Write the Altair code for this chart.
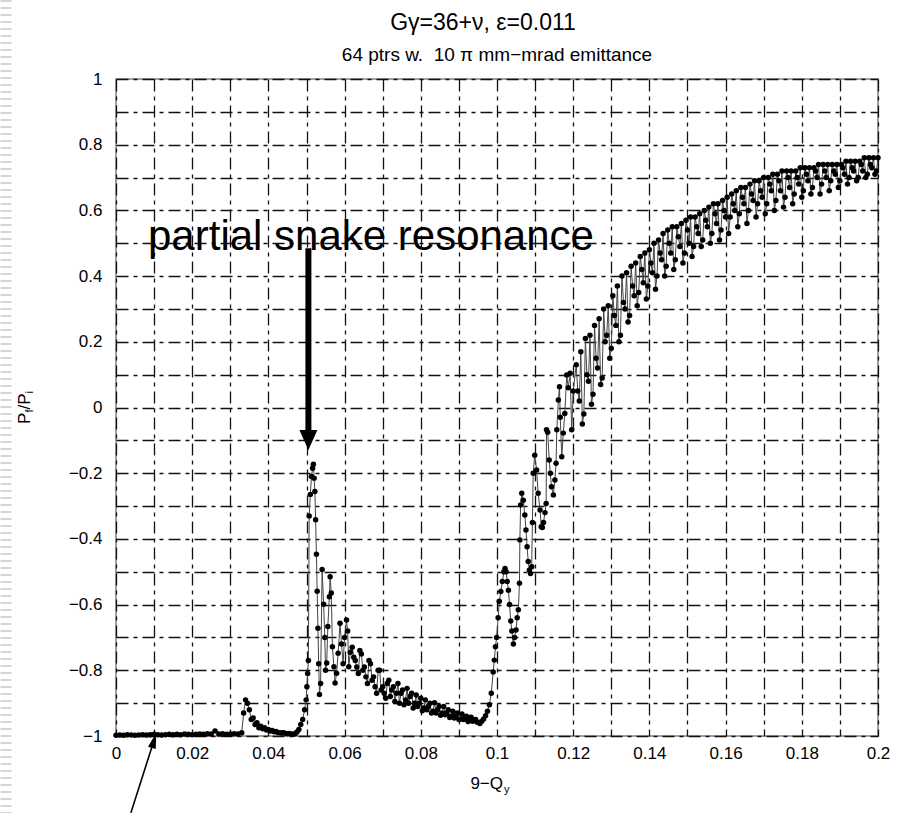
import altair as alt
import pandas as pd

# ---------------- data ----------------
# segment A: flat part, x = 0 ... 0.032 in steps of 0.001
flat_start, flat_step = 0.0, 0.001
flat_y = [-0.998, -0.997, -0.998, -0.996, -0.997, -0.998, -0.997, -0.996, -0.997, -0.996,
          -0.995, -0.996, -0.997, -0.996, -0.995, -0.996, -0.995, -0.996, -0.994, -0.995,
          -0.996, -0.995, -0.994, -0.995, -0.993, -0.994, -0.985, -0.994, -0.993, -0.995,
          -0.994, -0.993, -0.994]

# segment B: small bump, x = 0.033 ... 0.047 in steps of 0.0005
bump_start, bump_step = 0.033, 0.0005
bump_y = [-0.990, -0.930, -0.890, -0.900, -0.920, -0.950, -0.945, -0.965, -0.960, -0.975,
          -0.970, -0.978, -0.975, -0.982, -0.980, -0.985, -0.983, -0.987, -0.986, -0.989,
          -0.990, -0.991, -0.990, -0.992, -0.993, -0.992, -0.994, -0.995, -0.993]

# segment C: partial snake resonance peak
peak_x = [0.0475, 0.0480, 0.0485, 0.0490, 0.0495, 0.0499, 0.0501, 0.0503, 0.0505, 0.0507,
          0.0510, 0.0513, 0.0516, 0.0518, 0.0520, 0.0522, 0.0524, 0.0526, 0.0528, 0.0530,
          0.0532, 0.0534, 0.0537, 0.0541, 0.0545, 0.0548, 0.0550, 0.0553, 0.0556, 0.0560,
          0.0562, 0.0565, 0.0568, 0.0572, 0.0575, 0.0579, 0.0583, 0.0588, 0.0592, 0.0596,
          0.0600, 0.0605, 0.0608, 0.0611, 0.0615]
peak_y = [-0.988, -0.980, -0.965, -0.950, -0.920, -0.890, -0.850, -0.810, -0.770, -0.330,
          -0.265, -0.210, -0.185, -0.173, -0.215, -0.256, -0.342, -0.447, -0.559, -0.672,
          -0.780, -0.874, -0.840, -0.493, -0.599, -0.700, -0.800, -0.778, -0.667, -0.576,
          -0.515, -0.565, -0.728, -0.789, -0.839, -0.809, -0.748, -0.657, -0.720, -0.780,
          -0.700, -0.647, -0.680, -0.789, -0.745]

# segment D: slow decay, x = 0.0620 ... 0.0948 in steps of 0.0008
decay_start, decay_step = 0.0620, 0.0008
decay_y = [-0.730, -0.770, -0.810, -0.750, -0.790, -0.840, -0.780, -0.820, -0.870, -0.800,
           -0.850, -0.885, -0.830, -0.860, -0.895, -0.840, -0.870, -0.905, -0.855, -0.880,
           -0.915, -0.875, -0.900, -0.923, -0.890, -0.910, -0.930, -0.899, -0.920, -0.937,
           -0.910, -0.930, -0.944, -0.925, -0.938, -0.950, -0.933, -0.945, -0.956, -0.943,
           -0.952, -0.958]
# interleaved samples of the decay, x = 0.0624 ... 0.0944 in steps of 0.0008
decay2_start, decay2_step = 0.0624, 0.0008
decay2_y = [-0.760, -0.790, -0.740, -0.800, -0.820, -0.770, -0.830, -0.850, -0.800, -0.860,
            -0.870, -0.840, -0.880, -0.850, -0.870, -0.900, -0.860, -0.890, -0.900, -0.870,
            -0.900, -0.910, -0.885, -0.915, -0.920, -0.900, -0.925, -0.930, -0.910, -0.930,
            -0.935, -0.920, -0.940, -0.945, -0.930, -0.948, -0.950, -0.940, -0.952, -0.955,
            -0.950]

# segment E: steep recovery
rise_x = [0.0955, 0.0960, 0.0965, 0.0970, 0.0975, 0.0980, 0.0985, 0.0990, 0.0993, 0.0996,
          0.0999, 0.1003, 0.1006, 0.1010, 0.1014, 0.1018, 0.1021, 0.1024, 0.1027, 0.1030,
          0.1033, 0.1036, 0.1039, 0.1043, 0.1046, 0.1050, 0.1053, 0.1056, 0.1059, 0.1060,
          0.1062, 0.1065, 0.1069, 0.1073, 0.1076, 0.1079, 0.1082, 0.1085, 0.1088, 0.1091,
          0.1093, 0.1095, 0.1099, 0.1104, 0.1108, 0.1113, 0.1116, 0.1119, 0.1122, 0.1126,
          0.1129, 0.1130, 0.1133, 0.1137, 0.1140, 0.1143, 0.1148, 0.1152, 0.1155, 0.1157,
          0.1161, 0.1164, 0.1166, 0.1170, 0.1174, 0.1178, 0.1183, 0.1187, 0.1192, 0.1196,
          0.1200]
rise_y = [-0.962, -0.955, -0.948, -0.938, -0.925, -0.905, -0.870, -0.805, -0.769, -0.728,
          -0.700, -0.640, -0.590, -0.560, -0.530, -0.500, -0.490, -0.500, -0.530, -0.556,
          -0.600, -0.650, -0.680, -0.720, -0.700, -0.677, -0.640, -0.616, -0.535, -0.403,
          -0.297, -0.261, -0.282, -0.327, -0.373, -0.424, -0.469, -0.495, -0.505, -0.485,
          -0.350, -0.200, -0.145, -0.190, -0.261, -0.312, -0.363, -0.365, -0.350, -0.320,
          -0.292, -0.068, -0.075, -0.160, -0.200, -0.241, -0.266, -0.221, -0.170, -0.068,
          0.023, 0.063, -0.030, -0.150, -0.078, -0.018, 0.099, 0.060, 0.104, -0.068,
          0.050]

# segment F: oscillating band, x = 0.1208 ... 0.2000 in steps of 0.0008
band_start, band_step = 0.1208, 0.0008
band_y = [0.13, 0.02, -0.05, 0.21, 0.08, 0.01, 0.25, 0.12, 0.07, 0.30,
          0.22, 0.15, 0.34, 0.25, 0.20, 0.40, 0.30, 0.26, 0.43, 0.34,
          0.31, 0.46, 0.38, 0.33, 0.48, 0.41, 0.36, 0.51, 0.45, 0.40,
          0.54, 0.47, 0.42, 0.55, 0.49, 0.44, 0.57, 0.50, 0.46, 0.58,
          0.53, 0.49, 0.60, 0.55, 0.50, 0.62, 0.56, 0.51, 0.63, 0.58,
          0.53, 0.65, 0.60, 0.55, 0.67, 0.62, 0.56, 0.68, 0.63, 0.58,
          0.69, 0.64, 0.59, 0.70, 0.66, 0.60, 0.71, 0.66, 0.61, 0.72,
          0.67, 0.62, 0.72, 0.68, 0.64, 0.73, 0.69, 0.65, 0.73, 0.70,
          0.65, 0.74, 0.70, 0.66, 0.74, 0.71, 0.67, 0.74, 0.71, 0.68,
          0.75, 0.72, 0.69, 0.75, 0.72, 0.70, 0.76, 0.73, 0.71, 0.76]
# interleaved samples of the band, x = 0.1212 ... 0.1996 in steps of 0.0008
band2_start, band2_step = 0.1212, 0.0008
band2_y = [0.05, 0.17, -0.02, 0.10, 0.22, 0.04, 0.15, 0.27, 0.09, 0.20,
           0.31, 0.18, 0.28, 0.37, 0.22, 0.32, 0.41, 0.28, 0.37, 0.44,
           0.35, 0.42, 0.47, 0.37, 0.44, 0.50, 0.40, 0.47, 0.53, 0.43,
           0.50, 0.55, 0.45, 0.52, 0.56, 0.47, 0.54, 0.58, 0.49, 0.55,
           0.59, 0.51, 0.57, 0.61, 0.53, 0.59, 0.62, 0.54, 0.60, 0.64,
           0.58, 0.62, 0.66, 0.59, 0.64, 0.67, 0.60, 0.65, 0.69, 0.62,
           0.66, 0.70, 0.62, 0.68, 0.71, 0.63, 0.69, 0.72, 0.64, 0.70,
           0.72, 0.65, 0.70, 0.73, 0.66, 0.71, 0.73, 0.67, 0.72, 0.74,
           0.68, 0.72, 0.74, 0.69, 0.72, 0.74, 0.69, 0.73, 0.75, 0.70,
           0.73, 0.75, 0.70, 0.74, 0.76, 0.71, 0.74, 0.76, 0.72]

x_ticks = [round(i * 0.01, 2) for i in range(21)]
y_ticks = [round(-1 + i * 0.1, 1) for i in range(21)]

title_text = "G\u03b3=36+\u03bd, \u03b5=0.011"
subtitle_text = "64 ptrs w.\u00a0 10 \u03c0 mm\u2212mrad emittance"
note_text = "partial snake resonance"
note_pos = {"x": [0.0084], "y": [0.479]}
big_arrow = {"x": [0.0505], "y": [0.485], "y2": [-0.07]}
big_head = {"x": [0.0505], "y": [-0.099]}
small_arrow = {"x": [0.0039], "y": [-1.234], "x2": [0.0098], "y2": [-1.02]}
small_head = {"x": [0.0100], "y": [-1.013]}


def uniform(start, step, ys):
    return [round(start + i * step, 5) for i in range(len(ys))]


xs = (uniform(flat_start, flat_step, flat_y) + uniform(bump_start, bump_step, bump_y)
      + peak_x + uniform(decay_start, decay_step, decay_y)
      + uniform(decay2_start, decay2_step, decay2_y) + rise_x
      + uniform(band_start, band_step, band_y) + uniform(band2_start, band2_step, band2_y))
ys = flat_y + bump_y + peak_y + decay_y + decay2_y + rise_y + band_y + band2_y
df = pd.DataFrame({"x": xs, "y": ys}).sort_values("x").reset_index(drop=True)
df["order"] = range(len(df))

FONT = "Liberation Sans"
one = pd.DataFrame({"a": [0]})

x_scale = alt.Scale(domain=[0, 0.2], nice=False, zero=False)
y_scale = alt.Scale(domain=[-1, 1], nice=False, zero=False)
grid_dash = [12, 5, 4, 5]
x_axis = alt.Axis(values=x_ticks, grid=True, gridDash=grid_dash, gridColor="#111",
                  gridWidth=1.3, gridOpacity=1, tickSize=0, domain=False, title=None,
                  labelExpr="round(datum.value*100) % 2 == 0 ? format(datum.value, '~g') : ''",
                  labelFont=FONT, labelFontSize=17, labelColor="black", labelPadding=9,
                  labelFlush=False, labelOverlap=False, labelBound=False)
y_axis = alt.Axis(values=y_ticks, grid=True, gridDash=grid_dash, gridColor="#111",
                  gridWidth=1.3, gridOpacity=1, tickSize=0, domain=False, title=None,
                  labelExpr="abs(round(datum.value*10)) % 2 == 0 ? format(datum.value, '~g') : ''",
                  labelFont=FONT, labelFontSize=17, labelColor="black", labelPadding=14,
                  labelOverlap=False, labelBound=False)

X = alt.X("x:Q", scale=x_scale, axis=x_axis)
Y = alt.Y("y:Q", scale=y_scale, axis=y_axis)

line = alt.Chart(df).mark_line(color="#444444", strokeWidth=1).encode(
    x=X, y=Y, order="order:Q")
pts = alt.Chart(df).mark_circle(color="black", size=30, opacity=1).encode(x=X, y=Y)

note = alt.Chart(pd.DataFrame(note_pos)).mark_text(
    text=note_text, font=FONT, fontSize=42, align="left", baseline="alphabetic",
    color="black").encode(x=X, y=Y)
shaft = alt.Chart(pd.DataFrame(big_arrow)).mark_rule(
    color="black", strokeWidth=6).encode(x=X, y=Y, y2="y2:Q")
head = alt.Chart(pd.DataFrame(big_head)).mark_point(
    shape="M-0.9,-1L0.9,-1L0,1Z", filled=True, size=400, color="black",
    opacity=1, strokeWidth=0).encode(x=X, y=Y)
ptr = alt.Chart(pd.DataFrame(small_arrow)).mark_rule(
    color="black", strokeWidth=1.6).encode(x=X, y=Y, x2="x2:Q", y2="y2:Q")
ptr_head = alt.Chart(pd.DataFrame(small_head)).mark_point(
    shape="M-0.5,1L0.5,1L0,-1Z", filled=True, size=256, color="black",
    opacity=1, strokeWidth=0, angle=16).encode(x=X, y=Y)

# slide-edge stripe on the far left
stripe = alt.Chart(one).mark_rule(color="#d6d6d6", strokeWidth=11, strokeDash=[2, 5]).encode(
    x=alt.value(-110), y=alt.value(-79), y2=alt.value(734))

title = alt.Chart(one).mark_text(text=title_text, font=FONT, fontSize=23, align="center",
                                 baseline="alphabetic", color="black").encode(
    x=alt.value(367), y=alt.value(-49))
subtitle = alt.Chart(one).mark_text(text=subtitle_text, font=FONT, fontSize=19, align="center",
                                    baseline="alphabetic", color="black").encode(
    x=alt.value(381), y=alt.value(-18))

# axis titles with sub-scripts
xt1 = alt.Chart(one).mark_text(text="9\u2212Q", font=FONT, fontSize=17, align="right",
                               baseline="alphabetic", color="black").encode(
    x=alt.value(387), y=alt.value(710))
xt2 = alt.Chart(one).mark_text(text="y", font=FONT, fontSize=11, align="left",
                               baseline="alphabetic", color="black").encode(
    x=alt.value(388), y=alt.value(714))
yt = []
for txt, size, px, py in [("P", 17, -86, 345), ("f", 11, -83, 333.5), ("/", 17, -86, 330.5),
                          ("P", 17, -86, 325.8), ("i", 11, -83, 314.5)]:
    yt.append(alt.Chart(one).mark_text(text=txt, font=FONT, fontSize=size, align="left",
                                       baseline="alphabetic", angle=270, color="black").encode(
        x=alt.value(px), y=alt.value(py)))

chart = alt.layer(stripe, line, pts, shaft, head, ptr, ptr_head, note, title, subtitle,
                  xt1, xt2, *yt).properties(
    width=762, height=657,
    autosize=alt.AutoSizeParams(type="none"),
    padding={"left": 116, "top": 79, "right": 19, "bottom": 77},
).configure_view(stroke="#808080", strokeWidth=1.5)

chart.save("out.html", embed_options={"renderer": "svg", "actions": False})
